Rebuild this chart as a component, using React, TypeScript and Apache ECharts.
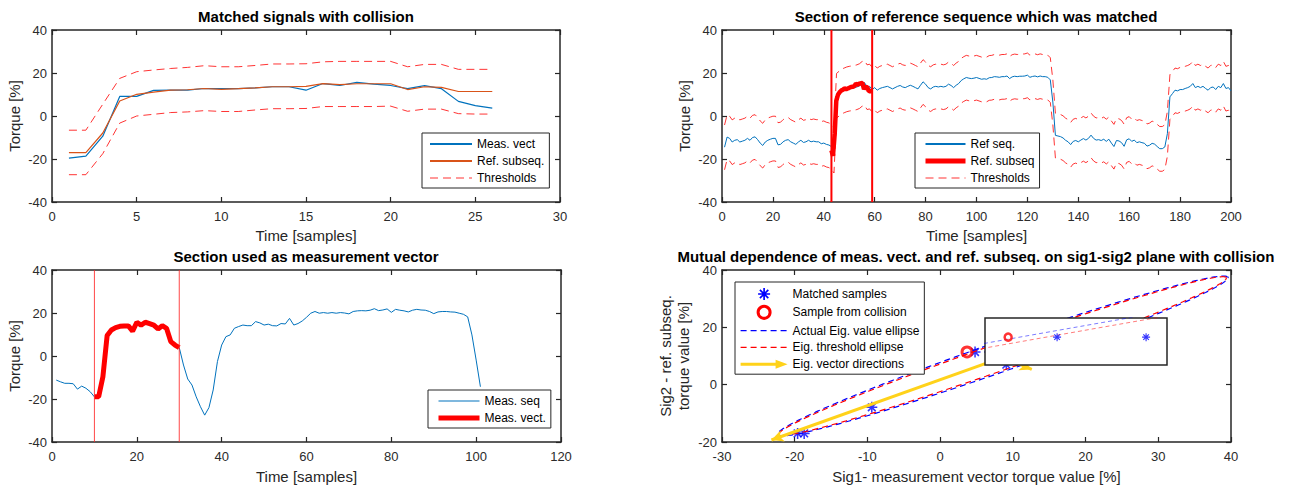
import React, { useEffect, useRef } from 'react';
import * as echarts from 'echarts';

const FONT = '"Liberation Sans", Arial, Helvetica, sans-serif';
const AXIS_COLOR = '#262626';
const BLUE = '#0072BD';
const ORANGE = '#D95319';
const RED = '#FF0000';
const THR_RED = 'rgba(255,0,0,0.8)';
const YELLOW = '#FFD21A';

// ---------- Panel 1: matched signals with collision ----------
const p1Samples = [1, 2, 3, 4, 5, 6, 7, 8, 9, 10, 11, 12, 13, 14, 15, 16, 17, 18, 19, 20, 21, 22, 23, 24, 25, 26];
const p1MeasVect = [-19.6, -18.7, -9.4, 9.1, 9.1, 11.9, 12.0, 12.0, 12.8, 12.7, 12.7, 13.1, 13.6, 13.6, 12.0, 15.1, 14.2, 15.6, 14.8, 14.2, 12.7, 14.1, 12.7, 6.8, 4.8, 3.7];
const p1RefSubseq = [-17.0, -17.0, -7.9, 7.0, 10.1, 11.1, 12.0, 12.2, 12.8, 12.4, 12.7, 13.1, 13.6, 13.6, 13.8, 15.1, 14.6, 15.0, 15.0, 15.0, 12.3, 13.6, 13.3, 11.4, 11.4, 11.4];
const p1UpperThr = [-6.6, -6.6, 5.5, 17.5, 20.6, 21.4, 22.1, 22.6, 23.4, 22.9, 22.9, 23.5, 24.2, 24.2, 24.3, 25.2, 25.4, 25.4, 25.4, 25.4, 22.9, 24.0, 24.0, 21.7, 21.7, 21.7];
const p1LowerThr = [-27.3, -27.3, -17.5, -3.3, 0.0, 0.8, 1.6, 1.9, 2.5, 2.1, 2.1, 2.8, 3.4, 3.4, 3.5, 4.4, 4.4, 4.4, 4.4, 4.6, 2.2, 3.2, 3.2, 1.1, 0.9, 0.9];

// ---------- Panel 2: reference sequence (samples 1..200) ----------
const p2RefSeq = [
  -14.5, -9.8, -10.4, -12.1, -11.3, -11.0, -12.1, -11.7, -11.3, -10.4,
  -11.3, -10.0, -9.7, -11.0, -12.6, -13.7, -12.1, -11.3, -10.8, -10.4,
  -10.4, -13.4, -13.2, -12.0, -11.3, -11.0, -12.0, -12.6, -13.2, -12.1,
  -11.3, -12.3, -12.0, -11.3, -12.0, -11.7, -12.0, -12.0, -12.9, -12.6,
  -13.2, -13.5, -14.2, -16.0, 9.5, 10.5, 11.5, 12.0, 12.5, 12.8,
  13.0, 13.2, 13.5, 14.0, 15.0, 15.5, 13.5, 13.8, 12.3, 13.2,
  12.0, 12.8, 13.2, 13.5, 13.8, 13.2, 12.6, 13.2, 13.8, 14.2,
  13.5, 13.2, 13.8, 14.3, 13.8, 13.2, 12.6, 14.3, 15.9, 14.8,
  13.2, 12.6, 13.5, 13.8, 13.5, 13.8, 13.5, 13.8, 14.8, 14.2,
  13.2, 14.3, 15.1, 16.5, 17.3, 17.9, 17.6, 17.4, 17.6, 17.9,
  17.5, 17.1, 17.3, 17.1, 17.8, 17.9, 18.3, 18.2, 18.0, 18.3,
  18.3, 18.6, 17.4, 18.2, 18.5, 18.3, 18.5, 18.5, 18.6, 19.0,
  18.0, 18.4, 18.6, 18.2, 18.6, 18.3, 18.3, 18.0, 16.8, 6.5,
  -9.0, -9.3, -9.6, -10.2, -11.3, -12.0, -13.3, -11.8, -11.4, -12.0,
  -11.2, -10.5, -11.2, -10.4, -8.9, -10.4, -11.2, -11.0, -11.4, -10.8,
  -11.8, -10.8, -12.6, -14.2, -11.4, -11.6, -12.4, -14.1, -11.1, -10.6,
  -11.8, -11.2, -12.4, -12.0, -12.4, -12.7, -14.0, -13.6, -12.7, -13.1,
  -14.2, -15.2, -15.2, -14.4, -8.2, 8.9, 10.4, 12.0, 11.7, 12.3,
  12.3, 12.8, 13.2, 13.8, 15.1, 13.2, 13.8, 13.2, 13.8, 12.8,
  12.0, 13.2, 13.5, 12.3, 13.8, 13.2, 15.1, 12.8, 13.2, 11.7,
];
const p2UpperThr = [
  -4.2, 0.5, -0.1, -1.8, -1.0, -0.7, -1.8, -1.4, -1.0, -0.1,
  -1.0, 0.3, 0.6, -0.7, -2.3, -3.4, -1.8, -1.0, -0.5, -0.1,
  -0.1, -3.1, -2.9, -1.7, -1.0, -0.7, -1.7, -2.3, -2.9, -1.8,
  -1.0, -2.0, -1.7, -1.0, -1.7, -1.4, -1.7, -1.7, -2.6, -2.3,
  -2.9, -3.2, -3.9, -5.7, 19.8, 20.8, 21.8, 22.3, 22.8, 23.1,
  23.3, 23.5, 23.8, 24.3, 25.3, 25.8, 23.8, 24.1, 22.6, 23.5,
  22.3, 23.1, 23.5, 23.8, 24.1, 23.5, 22.9, 23.5, 24.1, 24.5,
  23.8, 23.5, 24.1, 24.6, 24.1, 23.5, 22.9, 24.6, 26.2, 25.1,
  23.5, 22.9, 23.8, 24.1, 23.8, 24.1, 23.8, 24.1, 25.1, 24.5,
  23.5, 24.6, 25.4, 26.8, 27.6, 28.2, 27.9, 27.7, 27.9, 28.2,
  27.8, 27.4, 27.6, 27.4, 28.1, 28.2, 28.6, 28.5, 28.3, 28.6,
  28.6, 28.9, 27.7, 28.5, 28.8, 28.6, 28.8, 28.8, 28.9, 29.3,
  28.3, 28.7, 28.9, 28.5, 28.9, 28.6, 28.6, 28.3, 27.1, 16.8,
  1.3, 1.0, 0.7, 0.1, -1.0, -1.7, -3.0, -1.5, -1.1, -1.7,
  -0.9, -0.2, -0.9, -0.1, 1.4, -0.1, -0.9, -0.7, -1.1, -0.5,
  -1.5, -0.5, -2.3, -3.9, -1.1, -1.3, -2.1, -3.8, -0.8, -0.3,
  -1.5, -0.9, -2.1, -1.7, -2.1, -2.4, -3.7, -3.3, -2.4, -2.8,
  -3.9, -4.9, -4.9, -4.1, 2.1, 19.2, 20.7, 22.3, 22.0, 22.6,
  22.6, 23.1, 23.5, 24.1, 25.4, 23.5, 24.1, 23.5, 24.1, 23.1,
  22.3, 23.5, 23.8, 22.6, 24.1, 23.5, 25.4, 23.1, 23.5, 22.0,
];
const p2LowerThr = [
  -25.0, -20.3, -20.9, -22.6, -21.8, -21.5, -22.6, -22.2, -21.8, -20.9,
  -21.8, -20.5, -20.2, -21.5, -23.1, -24.2, -22.6, -21.8, -21.3, -20.9,
  -20.9, -23.9, -23.7, -22.5, -21.8, -21.5, -22.5, -23.1, -23.7, -22.6,
  -21.8, -22.8, -22.5, -21.8, -22.5, -22.2, -22.5, -22.5, -23.4, -23.1,
  -23.7, -24.0, -24.7, -26.5, -1.0, 0.0, 1.0, 1.5, 2.0, 2.3,
  2.5, 2.7, 3.0, 3.5, 4.5, 5.0, 3.0, 3.3, 1.8, 2.7,
  1.5, 2.3, 2.7, 3.0, 3.3, 2.7, 2.1, 2.7, 3.3, 3.7,
  3.0, 2.7, 3.3, 3.8, 3.3, 2.7, 2.1, 3.8, 5.4, 4.3,
  2.7, 2.1, 3.0, 3.3, 3.0, 3.3, 3.0, 3.3, 4.3, 3.7,
  2.7, 3.8, 4.6, 6.0, 6.8, 7.4, 7.1, 6.9, 7.1, 7.4,
  7.0, 6.6, 6.8, 6.6, 7.3, 7.4, 7.8, 7.7, 7.5, 7.8,
  7.8, 8.1, 6.9, 7.7, 8.0, 7.8, 8.0, 8.0, 8.1, 8.5,
  7.5, 7.9, 8.1, 7.7, 8.1, 7.8, 7.8, 7.5, 6.3, -4.0,
  -19.5, -19.8, -20.1, -20.7, -21.8, -22.5, -23.8, -22.3, -21.9, -22.5,
  -21.7, -21.0, -21.7, -20.9, -19.4, -20.9, -21.7, -21.5, -21.9, -21.3,
  -22.3, -21.3, -23.1, -24.7, -21.9, -22.1, -22.9, -24.6, -21.6, -21.1,
  -22.3, -21.7, -22.9, -22.5, -22.9, -23.2, -24.5, -24.1, -23.2, -23.6,
  -24.7, -25.7, -25.7, -24.9, -18.7, -1.6, -0.1, 1.5, 1.2, 1.8,
  1.8, 2.3, 2.7, 3.3, 4.6, 2.7, 3.3, 2.7, 3.3, 2.3,
  1.5, 2.7, 3.0, 1.8, 3.3, 2.7, 4.6, 2.3, 2.7, 1.2,
];
const p2SubseqX = [43, 43.6, 44.3, 44.9, 45.6, 46.2, 46.8, 47.5, 48.1, 48.8, 49.4, 50, 50.7, 51.3, 52, 52.6, 53.2, 53.9, 54.5, 55.2, 55.8, 56.4, 57.1, 57.7, 58.4, 59];
const p2SubseqY = [-16, -18.5, -8, 7, 10, 11, 11.8, 12.2, 12.8, 12.5, 12.8, 13.1, 13.5, 13.6, 13.9, 15, 14.6, 15, 15.2, 15.3, 12.5, 13.6, 13.3, 11.5, 11.6, 11.4];
const p2MatchBounds = [43, 59];

// ---------- Panel 3: measurement sequence (samples 1..101) ----------
const p3MeasSeq = [
  -11.2, -12.0, -12.7, -12.7, -12.9, -15.4, -14.0, -15.0, -16.6, -19.0,
  -19.0, -9.6, 9.5, 12.1, 13.2, 13.8, 14.0, 14.0, 11.6, 15.7,
  14.4, 15.7, 15.1, 14.4, 12.6, 14.1, 12.9, 6.7, 5.1, 3.9,
  -4.2, -10.7, -13.5, -19.0, -23.6, -27.5, -24.0, -15.8, -2.6, 5.1,
  9.0, 9.8, 12.9, 13.7, 14.4, 14.1, 14.1, 16.0, 15.4, 14.4,
  14.8, 14.1, 14.0, 15.1, 14.9, 17.5, 14.4, 15.1, 16.3, 18.0,
  19.9, 20.7, 19.9, 20.2, 19.9, 20.2, 19.9, 20.2, 20.0, 19.6,
  20.7, 21.0, 21.1, 21.0, 21.3, 22.0, 21.1, 21.4, 21.9, 20.3,
  21.7, 21.3, 21.0, 20.5, 21.3, 21.7, 21.4, 21.3, 20.7, 19.7,
  20.5, 20.7, 20.7, 20.5, 20.4, 19.9, 19.4, 18.2, 9.8, -1.9,
  -14.3,
];
const p3VectBounds = [10, 30];
const torqueRange = [-40, 40];

// ---------- Panel 4: sig1-sig2 plane ----------
const ellipseCenter = [8.6, 10.0];
const ellipseAngleDeg = 41.9;
const actualEllipseAxes = [41.5, 4.15];
const thresholdEllipseAxes = [41.2, 3.75];
const eigArrowOrigin = [8.7, 9.6];
const eigArrowTips = [[-23.2, -19.3], [12.6, 5.3]];
const insetXRange = [3.18, 7.27];
const insetYRange = [8.2, 13.6];

const ASTERISK = 'path://M8.6,0L11.4,0L11.4,20L8.6,20ZM0,8.6L20,8.6L20,11.4L0,11.4ZM2,4L4,2L18,16L16,18ZM16,2L18,4L4,18L2,16Z';
const ARROW_ICON = 'path://M0,3L35,3L35,0L47,4.5L35,9L35,6L0,6Z';

const pairs = (xs: number[], ys: number[]) => xs.map((x, i) => [x, ys[i]]);
const indexed = (ys: number[]) => ys.map((y, i) => [i + 1, y]);

function ellipsePoints(axes: number[]) {
  const th = (ellipseAngleDeg * Math.PI) / 180;
  const pts: number[][] = [];
  for (let k = 0; k <= 360; k++) {
    const t = (k * Math.PI) / 180;
    const s = axes[0] * Math.cos(t);
    const w = axes[1] * Math.sin(t);
    pts.push([
      ellipseCenter[0] + s * Math.cos(th) - w * Math.sin(th),
      ellipseCenter[1] + s * Math.sin(th) + w * Math.cos(th),
    ]);
  }
  return pts;
}

const matchedPts = pairs(p1MeasVect.slice(0, 25), p1RefSubseq.slice(0, 25));
const collisionPt = [[p1MeasVect[25], p1RefSubseq[25]]];

const grids = [
  { left: 52, top: 30, width: 508, height: 172 },
  { left: 722, top: 30, width: 509, height: 172 },
  { left: 52, top: 270, width: 509, height: 172 },
  { left: 722, top: 270, width: 509, height: 172 },
  { left: 985, top: 318, width: 182, height: 47 },
];

function axis(gridIndex: number, position: string, min: number, max: number, interval: number, labels: boolean, name?: string, nameGap = 26, isY = false) {
  return {
    type: 'value',
    gridIndex,
    position,
    min,
    max,
    interval,
    name: labels ? name : undefined,
    nameLocation: 'middle',
    nameGap,
    nameRotate: isY ? 90 : 0,
    nameTextStyle: { fontFamily: FONT, fontSize: 15, color: AXIS_COLOR, lineHeight: 18 },
    axisLine: { show: true, onZero: false, lineStyle: { color: AXIS_COLOR, width: 1.5 } },
    axisTick: { show: true, inside: true, length: 5, lineStyle: { color: AXIS_COLOR, width: 1.2 } },
    axisLabel: { show: labels, fontFamily: FONT, fontSize: 13, color: '#2b2b2b', margin: isY ? 5 : 8 },
    splitLine: { show: false },
  };
}

const hiddenAxis = (gridIndex: number, range: number[]) => ({
  type: 'value', gridIndex, min: range[0], max: range[1], show: false,
  splitLine: { show: false },
});

const xAxes = [
  axis(0, 'bottom', 0, 30, 5, true, 'Time [samples]', 24),
  axis(0, 'top', 0, 30, 5, false),
  axis(1, 'bottom', 0, 200, 20, true, 'Time [samples]', 24),
  axis(1, 'top', 0, 200, 20, false),
  axis(2, 'bottom', 0, 120, 20, true, 'Time [samples]', 25),
  axis(2, 'top', 0, 120, 20, false),
  axis(3, 'bottom', -30, 40, 10, true, 'Sig1- measurement vector torque value [%]', 25),
  axis(3, 'top', -30, 40, 10, false),
  hiddenAxis(4, insetXRange),
];
const yAxes = [
  axis(0, 'left', -40, 40, 20, true, 'Torque [%]', 29, true),
  axis(0, 'right', -40, 40, 20, false),
  axis(1, 'left', -40, 40, 20, true, 'Torque [%]', 29, true),
  axis(1, 'right', -40, 40, 20, false),
  axis(2, 'left', -40, 40, 20, true, 'Torque [%]', 29, true),
  axis(2, 'right', -40, 40, 20, false),
  axis(3, 'left', -20, 40, 20, true, 'Sig2 - ref. subseq.\ntorque value [%]', 30, true),
  axis(3, 'right', -20, 40, 20, false),
  hiddenAxis(4, insetYRange),
];

const lineSeries = (name: string, xi: number, yi: number, data: number[][], color: string, width: number, type: any = 'solid', extra: any = {}) => ({
  name,
  type: 'line',
  xAxisIndex: xi,
  yAxisIndex: yi,
  data,
  symbol: 'none',
  showSymbol: false,
  lineStyle: { color, width, type },
  itemStyle: { color },
  emphasis: { disabled: true },
  ...extra,
});

const boundLines = (prefix: string, xi: number, bounds: number[], color: string, width: number) =>
  bounds.map((x, k) =>
    lineSeries(`${prefix}-bound-${k}`, xi, xi, [[x, torqueRange[0]], [x, torqueRange[1]]], color, width, 'solid', { z: 3 }),
  );

const series: any[] = [
  // Panel 1
  lineSeries('Meas. vect', 0, 0, pairs(p1Samples, p1MeasVect), BLUE, 1.2),
  lineSeries('Ref. subseq.', 0, 0, pairs(p1Samples, p1RefSubseq), ORANGE, 1.2),
  lineSeries('Thresholds', 0, 0, pairs(p1Samples, p1UpperThr), THR_RED, 1, [8, 5]),
  lineSeries('Thresholds', 0, 0, pairs(p1Samples, p1LowerThr), THR_RED, 1, [8, 5]),
  // Panel 2
  lineSeries('Ref seq.', 2, 2, indexed(p2RefSeq), BLUE, 1),
  lineSeries('Ref. subseq', 2, 2, pairs(p2SubseqX, p2SubseqY), RED, 4.5),
  lineSeries('Thresholds', 2, 2, indexed(p2UpperThr), THR_RED, 1, [8, 5]),
  lineSeries('Thresholds', 2, 2, indexed(p2LowerThr), THR_RED, 1, [8, 5]),
  ...boundLines('p2', 2, p2MatchBounds, RED, 2),
  // Panel 3
  lineSeries('Meas. seq', 4, 4, indexed(p3MeasSeq), BLUE, 1),
  lineSeries('Meas. vect.', 4, 4, indexed(p3MeasSeq).filter((p) => p[0] >= p3VectBounds[0] && p[0] <= p3VectBounds[1]), RED, 5),
  ...boundLines('p3', 4, p3VectBounds, 'rgba(255,40,40,0.85)', 1),
  // Panel 4
  lineSeries('Actual Eig. value ellipse', 6, 6, ellipsePoints(actualEllipseAxes), '#0000FF', 1.2, [6, 4]),
  lineSeries('Eig. threshold ellipse', 6, 6, ellipsePoints(thresholdEllipseAxes), RED, 1.2, [6, 4]),
  lineSeries('Eig. vector directions', 6, 6, [eigArrowOrigin], YELLOW, 3, 'solid', {
    markLine: {
      silent: true,
      symbol: ['none', 'arrow'],
      symbolSize: [9, 12],
      label: { show: false },
      emphasis: { disabled: true },
      lineStyle: { color: YELLOW, width: 3, type: 'solid', opacity: 1 },
      data: eigArrowTips.map((tip) => [{ coord: eigArrowOrigin }, { coord: tip }]),
    },
  }),
  {
    name: 'Matched samples', type: 'scatter', xAxisIndex: 6, yAxisIndex: 6,
    data: matchedPts, symbol: ASTERISK, symbolSize: 11,
    itemStyle: { color: '#0000FF' }, emphasis: { disabled: true },
  },
  {
    name: 'Sample from collision', type: 'scatter', xAxisIndex: 6, yAxisIndex: 6,
    data: collisionPt, symbol: 'circle', symbolSize: 10,
    itemStyle: { color: 'rgba(255,255,255,0.4)', borderColor: RED, borderWidth: 3 }, emphasis: { disabled: true },
  },
  // Inset
  lineSeries('inset-actual', 8, 8, ellipsePoints(actualEllipseAxes), 'rgba(0,0,255,0.65)', 0.8, [4, 3], { z: 60 }),
  lineSeries('inset-threshold', 8, 8, ellipsePoints(thresholdEllipseAxes), 'rgba(255,0,0,0.65)', 0.8, [4, 3], { z: 60 }),
  {
    name: 'inset-matched', type: 'scatter', xAxisIndex: 8, yAxisIndex: 8, z: 61,
    data: matchedPts, symbol: ASTERISK, symbolSize: 8,
    itemStyle: { color: '#0000FF' }, emphasis: { disabled: true },
  },
  {
    name: 'inset-collision', type: 'scatter', xAxisIndex: 8, yAxisIndex: 8, z: 62,
    data: collisionPt, symbol: 'circle', symbolSize: 7,
    itemStyle: { color: 'rgba(255,255,255,0.4)', borderColor: RED, borderWidth: 2.5 }, emphasis: { disabled: true },
  },
];

const legendBase = {
  orient: 'vertical',
  selectedMode: false,
  backgroundColor: '#fff',
  borderColor: AXIS_COLOR,
  borderWidth: 1,
  borderRadius: 0,
  itemHeight: 12,
  itemStyle: { opacity: 0 },
  textStyle: { fontFamily: FONT, fontSize: 12, color: '#000' },
};

const legends = [
  {
    ...legendBase, left: 422, top: 133, itemWidth: 42, itemGap: 5, padding: [5, 5, 4, 7],
    data: [
      { name: 'Meas. vect', lineStyle: { width: 2 } },
      { name: 'Ref. subseq.', lineStyle: { width: 2 } },
      { name: 'Thresholds', lineStyle: { width: 1.2 } },
    ],
  },
  {
    ...legendBase, left: 915, top: 133, itemWidth: 40, itemGap: 5, padding: [5, 5, 4, 8],
    data: [
      { name: 'Ref seq.', lineStyle: { width: 2 } },
      { name: 'Ref. subseq', lineStyle: { width: 5 } },
      { name: 'Thresholds', lineStyle: { width: 1.2 } },
    ],
  },
  {
    ...legendBase, left: 428, top: 390, itemWidth: 41, itemGap: 5, padding: [5, 5, 4, 8],
    data: [
      { name: 'Meas. seq', lineStyle: { width: 1.2 } },
      { name: 'Meas. vect.', lineStyle: { width: 5 } },
    ],
  },
  {
    ...legendBase, left: 735, top: 282, itemWidth: 47, itemGap: 4.8, padding: [6, 5, 4, 5],
    data: [
      { name: 'Matched samples', icon: ASTERISK, itemStyle: { opacity: 1, color: '#0000FF' } },
      { name: 'Sample from collision', icon: 'circle', itemStyle: { opacity: 1, color: '#fff', borderColor: RED, borderWidth: 3 } },
      { name: 'Actual Eig. value ellipse', lineStyle: { width: 1.2 } },
      { name: 'Eig. threshold ellipse', lineStyle: { width: 1.2 } },
      { name: 'Eig. vector directions', icon: ARROW_ICON, itemStyle: { opacity: 1, color: YELLOW } },
    ],
  },
];

const titleText = (text: string, x: number, y: number) => ({
  type: 'text',
  x,
  y,
  style: { text, fill: '#000', font: `bold 15px ${FONT}`, textAlign: 'center', textVerticalAlign: 'top' },
  silent: true,
});

const option = {
  animation: false,
  backgroundColor: '#fff',
  grid: grids.map((g) => ({ ...g, containLabel: false, show: false })),
  xAxis: xAxes,
  yAxis: yAxes,
  legend: legends,
  series,
  graphic: [
    titleText('Matched signals with collision', 306, 9),
    titleText('Section of reference sequence which was matched', 976, 9),
    titleText('Section used as measurement vector', 306, 249),
    titleText('Mutual dependence of meas. vect. and ref. subseq. on sig1-sig2 plane with collision', 976, 249),
    {
      type: 'rect',
      z: 50,
      silent: true,
      shape: { x: grids[4].left, y: grids[4].top, width: grids[4].width, height: grids[4].height },
      style: { fill: '#fff', stroke: AXIS_COLOR, lineWidth: 1.5 },
    },
  ],
};

export default function App() {
  const ref = useRef<HTMLDivElement>(null);
  useEffect(() => {
    const chart = echarts.init(ref.current!, null, { renderer: 'svg' });
    chart.setOption(option as any);
    return () => chart.dispose();
  }, []);
  return <div ref={ref} style={{ position: 'fixed', left: 0, top: 0, width: 1289, height: 486, background: '#fff' }} />;
}
